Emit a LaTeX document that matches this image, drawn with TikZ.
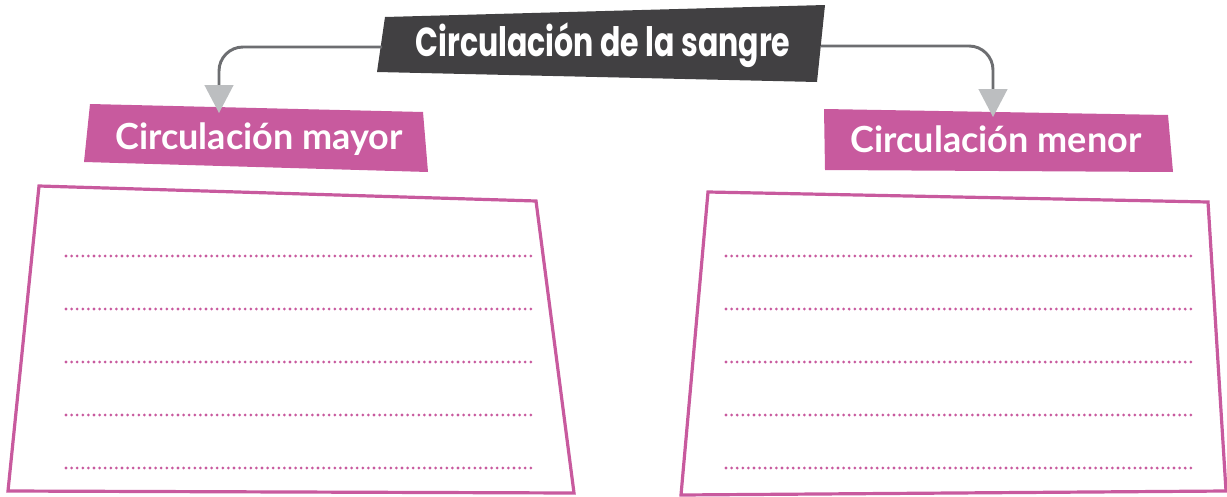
\documentclass[tikz,border=0pt]{standalone}
\usepackage{fontspec}
\usetikzlibrary{arrows.meta,positioning}
\newfontfamily\titlefont{Poppins}
\newfontfamily\lblfont{Lato}
\definecolor{rosa}{HTML}{C85A9E}
\definecolor{pizarra}{HTML}{414042}
\definecolor{linea}{HTML}{6D6E71}
\definecolor{punta}{HTML}{BCBEC0}

\begin{document}
\begin{tikzpicture}[x=0.75pt,y=-0.75pt,
  lbl/.style={text=white,font=\lblfont\bfseries\fontsize{27}{30}\selectfont,inner sep=0pt},
  ttl/.style={text=white,font=\titlefont\bfseries\fontsize{22.5}{26}\selectfont,inner sep=0pt},
  con/.style={draw=linea,line width=2.2pt,rounded corners=18pt,-{Triangle[length=21pt,width=22pt,color=punta,line width=0pt]}},
  caja/.style={draw=rosa,line width=2.4pt,line join=miter},
  dots/.style={draw=rosa,line width=2.3pt,line cap=round,dash pattern=on 0pt off 4.2pt}]
\useasboundingbox (0,0) rectangle (1227,496);
% titulo
\fill[pizarra] (385,17) -- (825,5) -- (817,82) -- (377,72) -- cycle;
\node[ttl] (t) at (603,45) {\scalebox{1}[1.35]{Circulación de la sangre}};
% etiquetas
\fill[rosa] (90,104) -- (423,112) -- (428,172) -- (84,162) -- cycle;
\node[lbl] (may) at (259,139) {Circulación mayor};
\fill[rosa] (824,109) -- (1168,115) -- (1173,172) -- (825,170) -- cycle;
\node[lbl] (men) at (996,139) {Circulación menor};
% conectores
\coordinate (tw) at (382,47);
\coordinate (te) at (821,46);
\coordinate (pm) at (219,113);
\coordinate (pn) at (993,117);
\draw[con] (tw) -| (pm);
\draw[con] (te) -| (pn);
% cajas
\draw[caja] (39,186) -- (536,201) -- (574,493) -- (8,491) -- cycle;
\draw[caja] (708,192) -- (1208,202) -- (1226,491) -- (681,495) -- cycle;
\foreach \y in {256,309,362,415,468} {
  \draw[dots] (66,\y) -- (533,\y);
  \draw[dots] (726,\y) -- (1192,\y);
}
\end{tikzpicture}
\end{document}
